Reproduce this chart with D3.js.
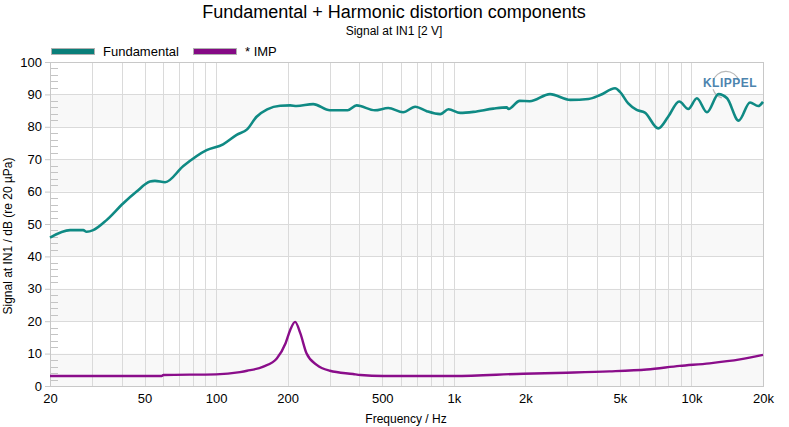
<!DOCTYPE html>
<meta charset="utf-8">
<style>
  body { margin: 0; background: #fff; }
  text { font-family: "Liberation Sans", Arial, sans-serif; fill: #000; }
</style>
<script src="https://d3js.org/d3.v7.min.js"></script>
<div id="chart"></div>
<script>
// data
const fundFreq = [20, 24.3, 27.6, 28.5, 30.4, 34.6, 40.7, 46.3, 52.7, 55.3, 61, 72.8, 91.2, 107, 122, 135, 148, 164, 186, 205,
  218, 256, 301, 358, 390, 466, 530, 612, 688, 770, 877, 950, 1064, 1210, 1466, 1668, 1700, 1894, 2088,
  2540, 3090, 3690, 4130, 4770, 5000, 5420, 5880, 6370, 7250, 7980, 8880, 9700, 10540, 11620, 13000, 14120, 15800, 17640, 19100, 20000];
const fundDb = [45.8, 48.1, 48.1, 47.6, 48.1, 51.2, 56.4, 60.0, 63.1, 63.3, 62.9, 67.9, 72.8, 74.6, 77.5, 79.2, 83.1, 85.4, 86.5, 86.6,
  86.4, 87.0, 85.1, 85.1, 86.6, 85.1, 85.8, 84.5, 86.2, 84.8, 83.9, 85.4, 84.3, 84.6, 85.6, 86.0, 85.5, 88.0, 87.9,
  90.1, 88.3, 88.6, 89.8, 91.9, 90.8, 87.2, 85.2, 84.4, 79.5, 83.1, 87.8, 85.5, 88.8, 84.5, 90.1, 88.8, 81.9, 87.5, 86.4, 87.7];

const impFreq = [20, 59, 60, 100, 126, 135, 158, 180, 196, 205, 215, 226, 240, 265, 301, 377, 405, 505, 1000, 1960, 2980, 4520, 6490, 8920, 11920, 16000, 20000];
const impDb = [3.1, 3.1, 3.4, 3.6, 4.3, 4.7, 6.0, 8.5, 13.2, 17.3, 19.8, 16.3, 10.1, 6.5, 4.7, 3.7, 3.4, 3.1, 3.1, 3.8, 4.1, 4.5, 5.1, 6.2, 7.0, 8.2, 9.6];

const xTicks = [20, 50, 100, 200, 500, 1000, 2000, 5000, 10000, 20000];
const xTickLabels = ["20", "50", "100", "200", "500", "1k", "2k", "5k", "10k", "20k"];
const xGrid = [30, 40, 50, 60, 70, 80, 90, 100, 200, 300, 400, 500, 600, 700, 800, 900, 1000,
  2000, 3000, 4000, 5000, 6000, 7000, 8000, 9000, 10000];
const yTicks = [0, 10, 20, 30, 40, 50, 60, 70, 80, 90, 100];

const width = 789, height = 427;
const margin = {left: 50, right: 763, top: 62, bottom: 386};

const svg = d3.select("#chart").append("svg")
    .attr("width", width).attr("height", height);

const x = d3.scaleLog().domain([20, 20000]).range([margin.left, margin.right]);
const y = d3.scaleLinear().domain([0, 100]).range([margin.bottom, margin.top]);

// alternating bands
svg.append("g").selectAll("rect")
  .data([0, 20, 40, 60, 80])
  .enter().append("rect")
    .attr("x", margin.left).attr("width", margin.right - margin.left)
    .attr("y", d => y(d + 10)).attr("height", d => y(d) - y(d + 10))
    .style("fill", "#f8f8f8");

// grid
const grid = svg.append("g").style("stroke", "#dadada").style("stroke-width", 1);
grid.selectAll("line.v").data(xGrid).enter().append("line")
    .attr("x1", d => Math.round(x(d)) + 0.5).attr("x2", d => Math.round(x(d)) + 0.5)
    .attr("y1", margin.top).attr("y2", margin.bottom);
grid.selectAll("line.h").data(yTicks).enter().append("line")
    .attr("x1", margin.left).attr("x2", margin.right)
    .attr("y1", d => Math.round(y(d)) + 0.5).attr("y2", d => Math.round(y(d)) + 0.5);

// minor y ticks inside the plot
svg.append("g").selectAll("line")
  .data(d3.range(0, 100, 2).filter(d => d % 10 !== 0))
  .enter().append("line")
    .attr("x1", margin.left).attr("x2", margin.left + 8)
    .attr("y1", d => Math.round(y(d)) + 0.5).attr("y2", d => Math.round(y(d)) + 0.5)
    .style("stroke", "#c4c4c4");

// frame
svg.append("rect")
    .attr("x", margin.left + 0.5).attr("y", margin.top + 0.5)
    .attr("width", margin.right - margin.left).attr("height", margin.bottom - margin.top)
    .style("fill", "none").style("stroke", "#c8c8c8");

// axes
const xAxis = svg.append("g")
    .attr("transform", "translate(0," + margin.bottom + ")")
    .call(d3.axisBottom(x).tickValues(xTicks).tickFormat((d, i) => xTickLabels[i]).tickSize(0).tickPadding(8));
const yAxis = svg.append("g")
    .attr("transform", "translate(" + margin.left + ",0)")
    .call(d3.axisLeft(y).tickValues(yTicks).tickSize(5).tickPadding(3));
[xAxis, yAxis].forEach(a => {
  a.select(".domain").remove();
  a.selectAll("line").style("stroke", "#c8c8c8");
  a.selectAll("text").style("font-size", "13px").style("font-family", "Liberation Sans, Arial, sans-serif").style("fill", "#000");
});

// KLIPPEL logo
const logo = svg.append("g").attr("transform", "translate(726,85)");
const arc = d3.arc().innerRadius(13).outerRadius(14.2);
logo.append("path")
    .attr("d", arc({startAngle: -0.42 * Math.PI, endAngle: 0.4 * Math.PI}))
    .style("fill", "#b8b8b8");
logo.append("path")
    .attr("d", arc({startAngle: 1.1 * Math.PI, endAngle: 1.4 * Math.PI}))
    .style("fill", "#b8b8b8");
logo.append("text")
    .attr("x", 4).attr("y", 2)
    .attr("text-anchor", "middle")
    .style("font-size", "12px").style("font-weight", "bold").style("letter-spacing", "0.5px")
    .style("fill", "#4d84ae")
    .text("KLIPPEL");

// curves
const line = d3.line()
    .x(d => x(d[0]))
    .y(d => y(d[1]))
    .curve(d3.curveMonotoneX);

svg.append("path")
    .datum(impFreq.map((f, i) => [f, impDb[i]]))
    .attr("d", line)
    .style("fill", "none").style("stroke", "#8a0d8a").style("stroke-width", 2.4);

svg.append("path")
    .datum(fundFreq.map((f, i) => [f, fundDb[i]]))
    .attr("d", line)
    .style("fill", "none").style("stroke", "#0f8a84").style("stroke-width", 2.6);

// legend
const legend = [["Fundamental", "#0a7f7a", 51], ["* IMP", "#850a85", 193]];
legend.forEach(l => {
  svg.append("rect")
    .attr("x", l[2] + 0.5).attr("y", 48.5).attr("width", 43).attr("height", 6)
    .style("fill", l[1]).style("stroke", "#b0b0b0");
  svg.append("text")
    .attr("x", l[2] + 52).attr("y", 56)
    .style("font-size", "13px")
    .text(l[0]);
});

// titles
svg.append("text")
    .attr("x", 394).attr("y", 18).attr("text-anchor", "middle")
    .style("font-size", "18px")
    .text("Fundamental + Harmonic distortion components");
svg.append("text")
    .attr("x", 394).attr("y", 35).attr("text-anchor", "middle")
    .style("font-size", "12px")
    .text("Signal at IN1 [2 V]");
svg.append("text")
    .attr("x", 406).attr("y", 423).attr("text-anchor", "middle")
    .style("font-size", "12px")
    .text("Frequency / Hz");
svg.append("text")
    .attr("transform", "translate(12,236) rotate(-90)")
    .attr("text-anchor", "middle")
    .style("font-size", "12px")
    .text("Signal at IN1 / dB (re 20 µPa)");
</script>
